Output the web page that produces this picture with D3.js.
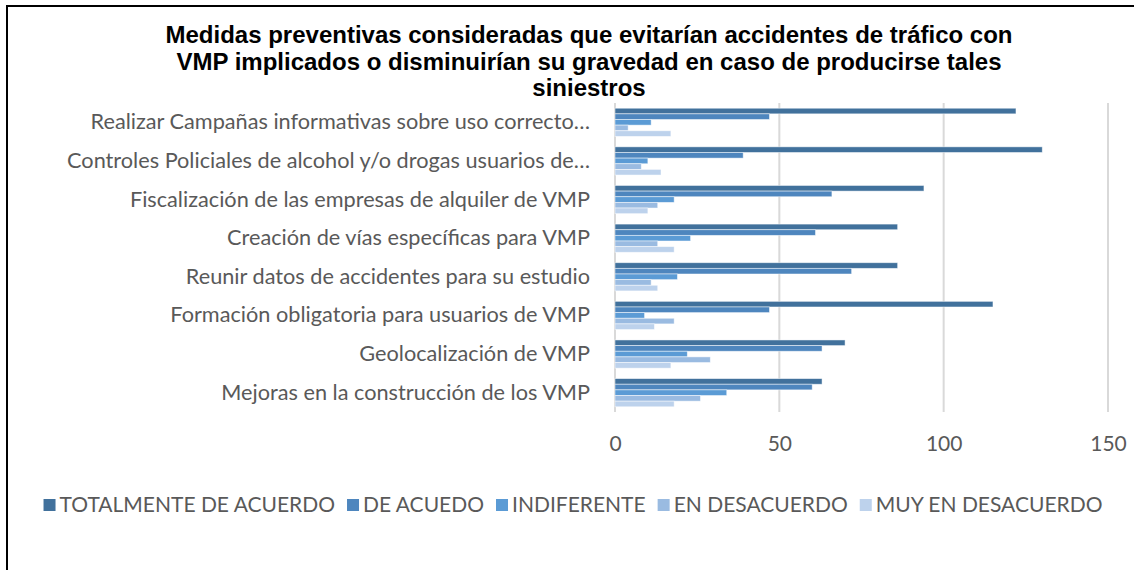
<!DOCTYPE html>
<html>
<head>
<meta charset="utf-8">
<script src="https://cdn.jsdelivr.net/npm/d3@7"></script>
<style>
  body { margin: 0; background: #fff; }
  svg { display: block; }
</style>
</head>
<body>
<svg id="chart" width="1134" height="570"></svg>
<script>
// datos
var categories = [
  "Realizar Campañas informativas sobre uso correcto…",
  "Controles Policiales de alcohol y/o drogas usuarios de…",
  "Fiscalización de las empresas de alquiler de VMP",
  "Creación de vías específicas para VMP",
  "Reunir datos de accidentes para su estudio",
  "Formación obligatoria para usuarios de VMP",
  "Geolocalización de VMP",
  "Mejoras en la construcción de los VMP"
];
var seriesNames = ["TOTALMENTE DE ACUERDO", "DE ACUEDO", "INDIFERENTE", "EN DESACUERDO", "MUY EN DESACUERDO"];
var totalmente = [122, 130, 94, 86, 86, 115, 70, 63];
var deAcuedo = [47, 39, 66, 61, 72, 47, 63, 60];
var indiferente = [11, 10, 18, 23, 19, 9, 22, 34];
var enDesacuerdo = [4, 8, 13, 13, 11, 18, 29, 26];
var muyEnDesacuerdo = [17, 14, 10, 18, 13, 12, 17, 18];
var xTicks = [0, 50, 100, 150];
var titleLines = [
  "Medidas preventivas consideradas que evitarían accidentes de tráfico con",
  "VMP implicados o disminuirían su gravedad en caso de producirse tales",
  "siniestros"
];

var colors = ["#41719C", "#4E86BE", "#5B9BD5", "#9ABBE1", "#BDD2EC"];
var seriesValues = [totalmente, deAcuedo, indiferente, enDesacuerdo, muyEnDesacuerdo];

var labelFont = "Lato, 'Open Sans', sans-serif";
var textGray = "#595959";

var svg = d3.select("#chart");

// marco del gráfico (se sale por la derecha y por abajo)
svg.append("rect")
  .attr("x", 7).attr("y", 6)
  .attr("width", 1140).attr("height", 580)
  .attr("fill", "none")
  .attr("stroke", "#000")
  .attr("stroke-width", 2);

// título
svg.append("g")
  .selectAll("text")
  .data(titleLines)
  .enter().append("text")
    .attr("x", 589)
    .attr("y", function (d, i) { return 43 + i * 26.5; })
    .attr("text-anchor", "middle")
    .attr("font-family", "'Liberation Sans', Arial, sans-serif")
    .attr("font-weight", "bold")
    .attr("font-size", 24)
    .attr("fill", "#000")
    .text(function (d) { return d; });

var x = d3.scaleLinear().domain([0, 150]).range([615, 1108]);
var y = d3.scaleBand().domain(categories).range([103, 412]).paddingInner(0.27).paddingOuter(0.135);
var ySub = d3.scaleBand().domain(seriesNames).range([0, y.bandwidth()]);

// rejilla vertical
svg.append("g")
  .selectAll("line")
  .data(xTicks)
  .enter().append("line")
    .attr("x1", function (d) { return x(d); })
    .attr("x2", function (d) { return x(d); })
    .attr("y1", 103).attr("y2", 412)
    .attr("stroke", "#D9D9D9")
    .attr("stroke-width", 2);

// barras
var groups = svg.append("g")
  .selectAll("g")
  .data(categories)
  .enter().append("g")
    .attr("transform", function (d) { return "translate(0," + y(d) + ")"; });

groups.selectAll("rect")
  .data(function (d, i) {
    return seriesNames.map(function (s, j) { return { serie: s, idx: j, value: seriesValues[j][i] }; });
  })
  .enter().append("rect")
    .attr("x", x(0))
    .attr("y", function (d) { return ySub(d.serie); })
    .attr("width", function (d) { return x(d.value) - x(0); })
    .attr("height", ySub.bandwidth())
    .attr("fill", function (d) { return colors[d.idx]; })
    .attr("stroke", "#fff")
    .attr("stroke-opacity", 0.6)
    .attr("stroke-width", 0.8);

// eje X
var xAxis = svg.append("g")
  .attr("transform", "translate(0,436)")
  .call(d3.axisBottom(x).tickValues(xTicks).tickSize(0).tickPadding(0));
xAxis.select(".domain").remove();
xAxis.selectAll("text")
  .attr("font-family", labelFont)
  .attr("font-size", 21)
  .attr("fill", textGray)
  .attr("dy", "0.71em");

// eje Y (etiquetas de categorías)
var yAxis = svg.append("g")
  .attr("transform", "translate(" + (x(0) - 25) + ",0)")
  .call(d3.axisLeft(y).tickSize(0).tickPadding(0));
yAxis.select(".domain").remove();
yAxis.selectAll("text")
  .attr("font-family", labelFont)
  .attr("font-size", 21.7)
  .attr("fill", textGray);

// leyenda
var legend = svg.append("g").attr("transform", "translate(0,505)");
var items = legend.selectAll("g")
  .data(seriesNames)
  .enter().append("g");
items.append("rect")
  .attr("y", -6).attr("width", 12).attr("height", 12)
  .attr("fill", function (d, i) { return colors[i]; });
items.append("text")
  .attr("x", 16)
  .attr("dy", "0.35em")
  .attr("font-family", labelFont)
  .attr("font-size", 21)
  .attr("fill", textGray)
  .text(function (d) { return d; });

var widths = [];
items.select("text").each(function () { widths.push(16 + this.getComputedTextLength()); });
var gap = 12;
var total = d3.sum(widths) + gap * (widths.length - 1);
var pos = 573 - total / 2;
items.attr("transform", function (d, i) {
  var t = "translate(" + pos + ",0)";
  pos += widths[i] + gap;
  return t;
});
</script>
</body>
</html>
